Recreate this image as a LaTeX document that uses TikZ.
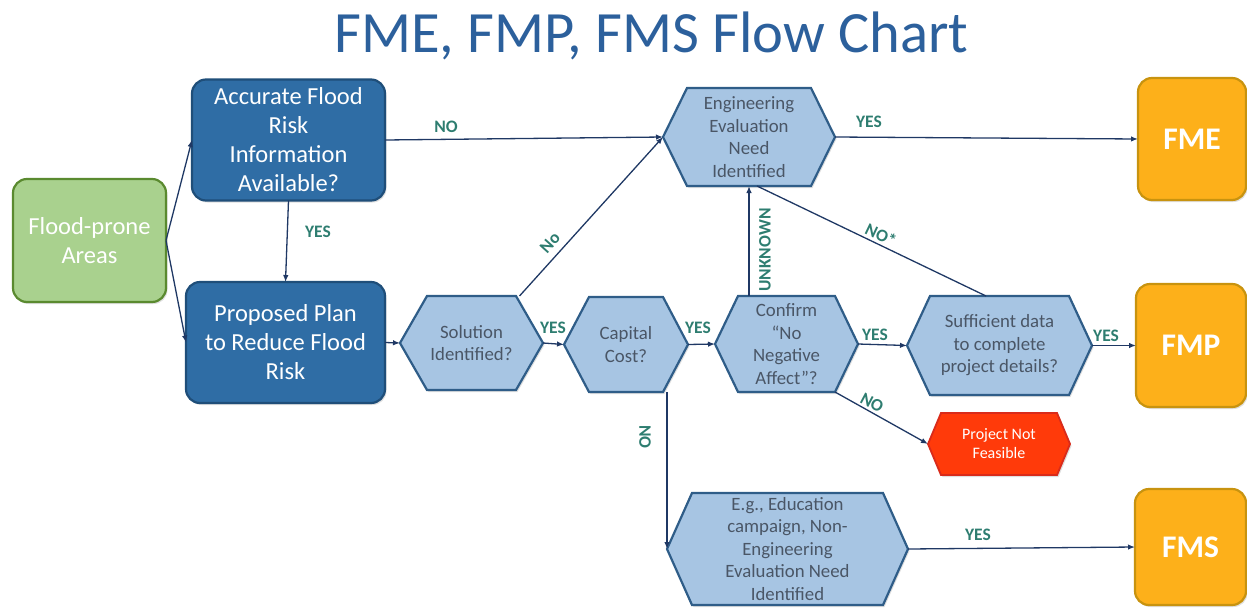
\documentclass[tikz,border=0pt]{standalone}
\usepackage{fontspec}
\setmainfont{Carlito}
\usetikzlibrary{arrows.meta,shadows}
\definecolor{titleblue}{HTML}{2C609C}
\definecolor{dkfill}{HTML}{2F6DA5}
\definecolor{dkborder}{HTML}{1F4E79}
\definecolor{grfill}{HTML}{A9D18E}
\definecolor{grborder}{HTML}{5A8A2F}
\definecolor{hxfill}{HTML}{A7C5E3}
\definecolor{hxborder}{HTML}{2F5D88}
\definecolor{hxtext}{HTML}{4A5666}
\definecolor{rdfill}{HTML}{FF3A0A}
\definecolor{rdborder}{HTML}{D92B1A}
\definecolor{orfill}{HTML}{FDB01A}
\definecolor{orborder}{HTML}{C8930F}
\definecolor{lblteal}{HTML}{2E7D70}
\definecolor{arrnavy}{HTML}{1F3864}
\newcommand{\hexbox}[8]{%
  \draw[#7 shape] (#2-#4/2,#3) -- ++(#6,-#5/2) -- ++(#4-2*#6,0) -- ++(#6,#5/2) -- ++(-#6,#5/2) -- ++(-#4+2*#6,0) -- cycle;
  \node[#7 text, minimum width=#4, minimum height=#5] (#1) at (#2,#3) {#8};}
\tikzset{
  shd/.style={drop shadow={opacity=0.25,shadow xshift=1.5pt,shadow yshift=-2pt}},
  boxbase/.style={line width=2.2pt, rounded corners=14pt, text=white, align=center,
    inner sep=0pt, outer sep=0pt, font=\fontsize{24.5}{29}\selectfont, shd},
  dkbox/.style={boxbase, draw=dkborder, fill=dkfill},
  grbox/.style={boxbase, draw=grborder, fill=grfill},
  orbox/.style={boxbase, draw=orborder, fill=orfill, font=\bfseries\fontsize{31.5}{31.5}\selectfont},
  hxblue shape/.style={draw=hxborder, fill=hxfill, line width=2.2pt, line join=miter, shd},
  hxblue text/.style={text=hxtext, align=center, inner sep=0pt, outer sep=0pt,
    font=\fontsize{18.8}{22.5}\selectfont},
  hxred shape/.style={draw=rdborder, fill=rdfill, line width=1.8pt, shd},
  hxred text/.style={text=white, align=center, inner sep=0pt, outer sep=0pt,
    font=\fontsize{16}{19}\selectfont},
  arr/.style={draw=arrnavy, line width=1.3pt, -{Latex[length=7pt,width=5.5pt]}},
  plainline/.style={draw=arrnavy, line width=1.3pt},
  lbl/.style={text=lblteal, font=\bfseries\fontsize{17.5}{17.5}\selectfont, inner sep=0pt},
  titletext/.style={text=titleblue, font=\fontsize{58.5}{58.5}\selectfont, inner sep=0pt, anchor=base}
}
\begin{document}
\begin{tikzpicture}[x=1pt,y=-1pt]
\useasboundingbox (0,0) rectangle (1247,608);
\clip (0,0) rectangle (1247,608);
\node[titletext] (title) at (651.5,52) {FME, FMP, FMS Flow Chart};

% left column
\node[grbox, minimum width=153, minimum height=123] (flood) at (89.5,240.5) {Flood-prone\\Areas};
\node[dkbox, minimum width=193, minimum height=121] (acc) at (288.5,140) {Accurate Flood\\Risk\\Information\\Available?};
\node[dkbox, minimum width=199, minimum height=121] (prop) at (285.5,342.5) {Proposed Plan\\to Reduce Flood\\Risk};

% hexagons
\hexbox{eng}{749}{137}{172}{98}{24}{hxblue}{Engineering\\Evaluation\\Need\\Identified}
\hexbox{sol}{471.5}{343}{143}{94}{27}{hxblue}{Solution\\Identified?}
\hexbox{cap}{626}{344.5}{124}{95}{25}{hxblue}{Capital\\Cost?}
\hexbox{conf}{786.5}{344}{143}{96}{23}{hxblue}{Confirm\\“No\\Negative\\Affect”?}
\hexbox{suff}{999.5}{345.5}{185}{99}{23}{hxblue}{Sufficient data\\to complete\\project details?}
\hexbox{pnf}{999}{444}{142}{62}{13}{hxred}{Project Not\\Feasible}
\hexbox{edu}{787.5}{549}{241}{112}{25}{hxblue}{E.g., Education\\campaign, Non-\\Engineering\\Evaluation Need\\Identified}

% outcome boxes
\node[orbox, minimum width=108, minimum height=122] (fme) at (1192,139) {FME};
\node[orbox, minimum width=110, minimum height=123] (fmp) at (1191,345.5) {FMP};
\node[orbox, minimum width=111, minimum height=116] (fms) at (1190.5,547) {FMS};

% connectors
\draw[arr] (flood.east) -- (acc.west);
\draw[arr] (flood.east) -- (prop.west);
\draw[arr] (acc.south) -- (prop.north);
\draw[arr] (acc.east) -- (eng.west);
\draw[arr] (prop.east) -- (sol.west);
\draw[arr] ([xshift=-23.5pt]sol.north east) -- (eng.west);
\draw[arr] (sol.east) -- (cap.west);
\draw[arr] (cap.east) -- (conf.west);
\draw[arr] (eng.south |- conf.north) -- (eng.south);
\draw[plainline] ([xshift=-13.5pt]suff.north) -- ([xshift=8pt]eng.south);
\draw[arr] (conf.east) -- (suff.west);
\draw[arr] ([xshift=-23pt]conf.south east) -- (pnf.west);
\draw[arr] (suff.east) -- (fmp.west);
\draw[arr] (eng.east) -- (fme.west);
\draw[arr] (edu.west |- cap.south) -- (edu.west);
\draw[arr] (edu.east) -- (fms.west);

% labels
\node[lbl] (lyes1) at (318,232) {YES};
\node[lbl] (lno1) at (446,127) {NO};
\node[lbl, rotate=48] (lno2) at (550,243) {No};
\node[lbl] (lyes2) at (553,328) {YES};
\node[lbl] (lyes3) at (698,328) {YES};
\node[lbl, rotate=90] (lunk) at (765,250) {UNKNOWN};
\node[lbl, rotate=-25.6] (lnostar) at (881,235) {NO*};
\node[lbl] (lyes4) at (869,122) {YES};
\node[lbl] (lyes5) at (875,335) {YES};
\node[lbl, rotate=-28] (lno3) at (872,403) {NO};
\node[lbl] (lyes6) at (1106,336) {YES};
\node[lbl, rotate=-90] (lno4) at (645,437) {NO};
\node[lbl] (lyes7) at (978,535) {YES};
\end{tikzpicture}
\end{document}
